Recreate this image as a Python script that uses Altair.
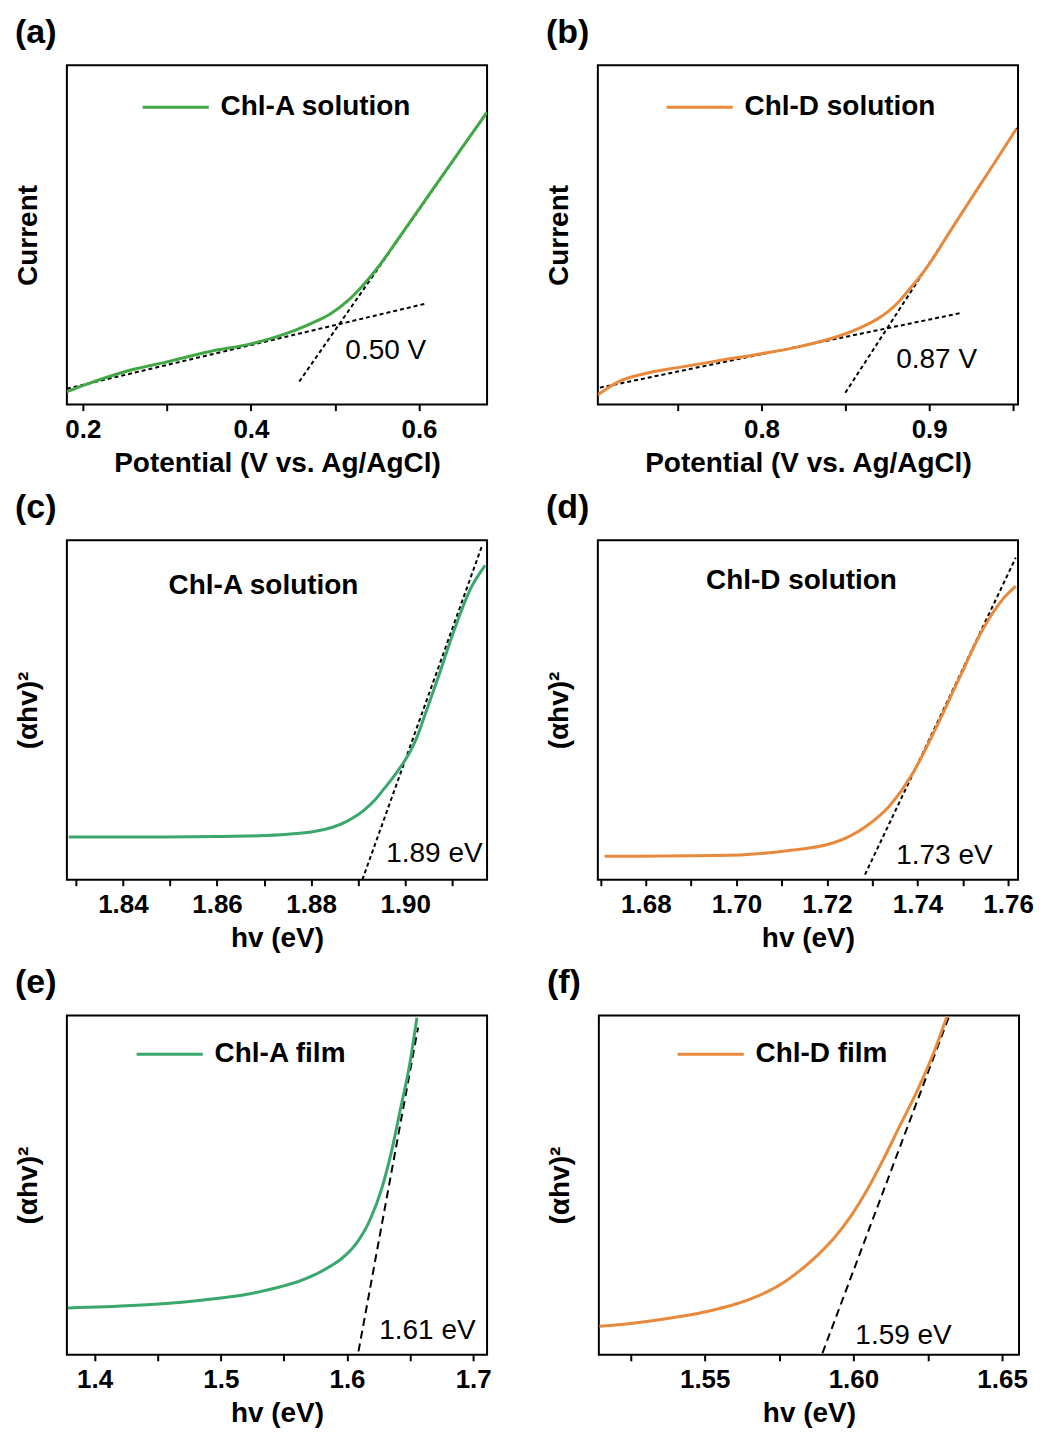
import json
import altair as alt
import pandas as pd

FONT = "Liberation Sans"
GREEN_A = "#41a845"
GREEN_B = "#3aa86c"
ORANGE = "#e8893b"

# ---------------- (a) Chl-A solution, LSV ----------------
a_v = [0.181, 0.20, 0.25, 0.30, 0.35, 0.40, 0.4515, 0.4751, 0.4948, 0.5147, 0.5345,
       0.5543, 0.574, 0.60, 0.65, 0.681]
a_i = [3.8, 5.6, 9.7, 12.6, 15.6, 17.9, 21.8, 24.3, 26.8, 30.5, 35.5,
       41.5, 48.4, 57.6, 75.3, 86.2]
a_fit_low_v = [0.181, 0.607]
a_fit_low_i = [4.7, 29.7]
a_fit_high_v = [0.4575, 0.681]
a_fit_high_i = [6.8, 86.2]

# ---------------- (b) Chl-D solution, LSV ----------------
b_v = [0.7024, 0.7137, 0.733, 0.75, 0.774, 0.80, 0.8226, 0.843, 0.855, 0.8625, 0.869,
       0.876, 0.882, 0.888, 0.894, 0.90, 0.912, 0.922, 0.936, 0.944, 0.952]
b_i = [2.9, 6.5, 9.4, 10.9, 12.9, 15.0, 17.1, 19.7, 21.8, 23.5, 25.2,
       27.6, 30.4, 33.9, 37.4, 41.4, 50.7, 58.4, 69.0, 75.1, 81.3]
b_fit_low_v = [0.7036, 0.919]
b_fit_low_i = [5.0, 27.0]
b_fit_high_v = [0.85, 0.9524]
b_fit_high_i = [3.5, 81.5]

# ---------------- (c) Chl-A solution, Tauc ----------------
c_e = [1.8285, 1.849, 1.860, 1.870, 1.8806, 1.8876, 1.8912, 1.8935, 1.8954, 1.8984, 1.9010,
       1.9025, 1.9040, 1.9070, 1.9104, 1.9138, 1.917]
c_a = [12.6, 12.6, 12.7, 13.0, 14.2, 17.2, 20.4, 23.4, 26.6, 32.0, 37.6,
       42.0, 47.8, 59.6, 73.5, 85.5, 92.6]
c_fit_e = [1.8909, 1.9163]
c_fit_a = [0.0, 98.3]

# ---------------- (d) Chl-D solution, Tauc ----------------
d_e = [1.6709, 1.6956, 1.7103, 1.7213, 1.7286, 1.7337, 1.739, 1.744, 1.7491, 1.7544, 1.7588, 1.7617]
d_a = [6.9, 7.1, 8.4, 10.8, 15.7, 21.6, 31.5, 44.5, 59.0, 73.7, 82.6, 86.5]
d_fit_e = [1.7284, 1.7617]
d_fit_a = [1.5, 94.9]

# ---------------- (e) Chl-A film, Tauc ----------------
e_e = [1.379, 1.43, 1.4826, 1.522, 1.548, 1.5615, 1.5746, 1.5877, 1.5956, 1.6034,
       1.6087, 1.614, 1.6192, 1.6271, 1.635, 1.6428, 1.6494, 1.6554]
e_a = [13.8, 14.5, 16.0, 17.9, 20.1, 21.6, 23.6, 26.3, 28.3, 31.0,
       33.5, 36.6, 40.6, 48.5, 59.5, 73.2, 85.0, 99.3]
e_fit_e = [1.6091, 1.6563]
e_fit_a = [1.0, 96.4]

# ---------------- (f) Chl-D film, Tauc ----------------
f_e = [1.5146, 1.5258, 1.5353, 1.5432, 1.5487, 1.5543, 1.5599, 1.5655, 1.5711, 1.5767,
       1.5823, 1.5879, 1.5935, 1.5991, 1.6047, 1.6103, 1.6158, 1.6214, 1.6270, 1.6315]
f_a = [8.4, 9.3, 10.4, 11.5, 12.4, 13.5, 14.8, 16.5, 18.6, 21.4,
       25.0, 29.3, 34.4, 40.8, 48.7, 58.0, 67.8, 77.7, 89.0, 99.8]
f_fit_e = [1.5896, 1.6322]
f_fit_a = [0.5, 99.8]

X_POT = "Potential (V vs. Ag/AgCl)"
X_HV = "hv (eV)"
Y_CUR = "Current"
Y_TAUC = "(\u03b1hv)\u00b2"

W, H = 421, 340
FS_TICK = 26
FS = 28


def panel(letter, xs, ys, fits, color, name, xdom, major, minor, fmt, xtitle, ytitle,
          legend_pos, note, note_pos, dash, heading_pos=None):
    df = pd.DataFrame({"x": xs, "y": ys, "series": name})
    fit_rows = []
    for k, (fx, fy) in enumerate(fits):
        for xv, yv in zip(fx, fy):
            fit_rows.append({"x": xv, "y": yv, "seg": k})
    fdf = pd.DataFrame(fit_rows)

    xaxis = alt.Axis(
        values=sorted(major + minor), format=fmt,
        labelExpr="indexof(%s, datum.value) >= 0 ? datum.label : ''" % json.dumps(major),
        title=xtitle, titleFont=FONT, titleFontSize=FS, titleFontWeight="bold",
        titleColor="black", titlePadding=7,
        labelFont=FONT, labelFontSize=FS_TICK, labelFontWeight="bold", labelColor="black",
        labelPadding=6, labelFlush=False, labelOverlap=False,
        tickColor="black", tickWidth=2, tickSize=6, domain=False, grid=False,
    )
    yaxis = alt.Axis(
        labels=False, ticks=False, domain=False, grid=False, title=ytitle,
        titleFont=FONT, titleFontSize=FS, titleFontWeight="bold", titleColor="black",
        titlePadding=24,
    )
    xsc = alt.Scale(domain=xdom, nice=False, zero=False)
    ysc = alt.Scale(domain=[0, 100], nice=False, zero=False)

    if legend_pos is not None:
        leg = alt.Legend(
            title=None, orient="none", legendX=legend_pos[0], legendY=legend_pos[1],
            labelFont=FONT, labelFontSize=FS, labelFontWeight="bold", labelColor="black",
            labelLimit=500, symbolType="stroke", symbolSize=4400, symbolStrokeWidth=3,
            labelOffset=10, padding=0,
        )
    else:
        leg = None

    curve = alt.Chart(df).mark_line(strokeWidth=3, interpolate="monotone", clip=True).encode(
        x=alt.X("x:Q", scale=xsc, axis=xaxis),
        y=alt.Y("y:Q", scale=ysc, axis=yaxis),
        color=alt.Color("series:N", scale=alt.Scale(domain=[name], range=[color]), legend=leg),
    )
    fit = alt.Chart(fdf).mark_line(color="black", strokeWidth=2, strokeDash=dash, clip=True).encode(
        x="x:Q", y="y:Q", detail="seg:N"
    )
    layers = [fit, curve]

    note_df = pd.DataFrame({"t": [note]})
    layers.append(
        alt.Chart(note_df).mark_text(align="left", baseline="middle", font=FONT, fontSize=FS,
                                     color="black").encode(
            x=alt.value(note_pos[0]), y=alt.value(note_pos[1]), text="t:N")
    )
    if heading_pos is not None:
        head_df = pd.DataFrame({"t": [name]})
        layers.append(
            alt.Chart(head_df).mark_text(align="center", baseline="middle", font=FONT, fontSize=FS,
                                         fontWeight="bold", color="black").encode(
                x=alt.value(heading_pos[0]), y=alt.value(heading_pos[1]), text="t:N")
        )

    return alt.layer(*layers).properties(
        width=W, height=H,
        view=alt.ViewBackground(stroke="black", strokeWidth=2, fill="white"),
        title=alt.TitleParams(letter, anchor="start", font=FONT, fontSize=34, fontWeight="bold",
                              color="black", offset=15),
    )


pa = panel("(a)", a_v, a_i, [(a_fit_low_v, a_fit_low_i), (a_fit_high_v, a_fit_high_i)],
           GREEN_A, "Chl-A solution", [0.181, 0.681], [0.2, 0.4, 0.6], [0.3, 0.5], ".1f",
           X_POT, Y_CUR, (74, 7), "0.50 V", (279, 286), [4, 3])
pb = panel("(b)", b_v, b_i, [(b_fit_low_v, b_fit_low_i), (b_fit_high_v, b_fit_high_i)],
           ORANGE, "Chl-D solution", [0.7024, 0.953], [0.8, 0.9], [0.75, 0.85, 0.95], ".1f",
           X_POT, Y_CUR, (67, 7), "0.87 V", (299, 295), [4, 3])
pc = panel("(c)", c_e, c_a, [(c_fit_e, c_fit_a)],
           GREEN_B, "Chl-A solution", [1.8281, 1.9174], [1.84, 1.86, 1.88, 1.90],
           [1.83, 1.85, 1.87, 1.89, 1.91], ".2f",
           X_HV, Y_TAUC, None, "1.89 eV", (320, 314), [4, 3], heading_pos=(197, 46))
pd_ = panel("(d)", d_e, d_a, [(d_fit_e, d_fit_a)],
            ORANGE, "Chl-D solution", [1.6694, 1.7622], [1.68, 1.70, 1.72, 1.74, 1.76],
            [1.67, 1.69, 1.71, 1.73, 1.75], ".2f",
            X_HV, Y_TAUC, None, "1.73 eV", (299, 316), [4, 3], heading_pos=(204, 41))
pe = panel("(e)", e_e, e_a, [(e_fit_e, e_fit_a)],
           GREEN_B, "Chl-A film", [1.378, 1.711], [1.4, 1.5, 1.6, 1.7], [1.45, 1.55, 1.65], ".1f",
           X_HV, Y_TAUC, (68, 4), "1.61 eV", (313, 316), [8, 5])
pf = panel("(f)", f_e, f_a, [(f_fit_e, f_fit_a)],
           ORANGE, "Chl-D film", [1.5144, 1.6557], [1.55, 1.60, 1.65], [1.525, 1.575, 1.625], ".2f",
           X_HV, Y_TAUC, (77, 4), "1.59 eV", (257, 321), [8, 5])

row1 = alt.hconcat(pa, pb, spacing=57).resolve_scale(color="independent")
row2 = alt.hconcat(pc, pd_, spacing=57).resolve_scale(color="independent")
row3 = alt.hconcat(pe, pf, spacing=53).resolve_scale(color="independent")

chart = alt.vconcat(row1, row2, row3, spacing=12).resolve_scale(color="independent").properties(
    padding={"left": 6, "top": 6, "right": 0, "bottom": 2}
).configure_view(stroke="black", strokeWidth=2).configure(background="white")

chart.save("out.html", embed_options={"renderer": "svg", "actions": False})
